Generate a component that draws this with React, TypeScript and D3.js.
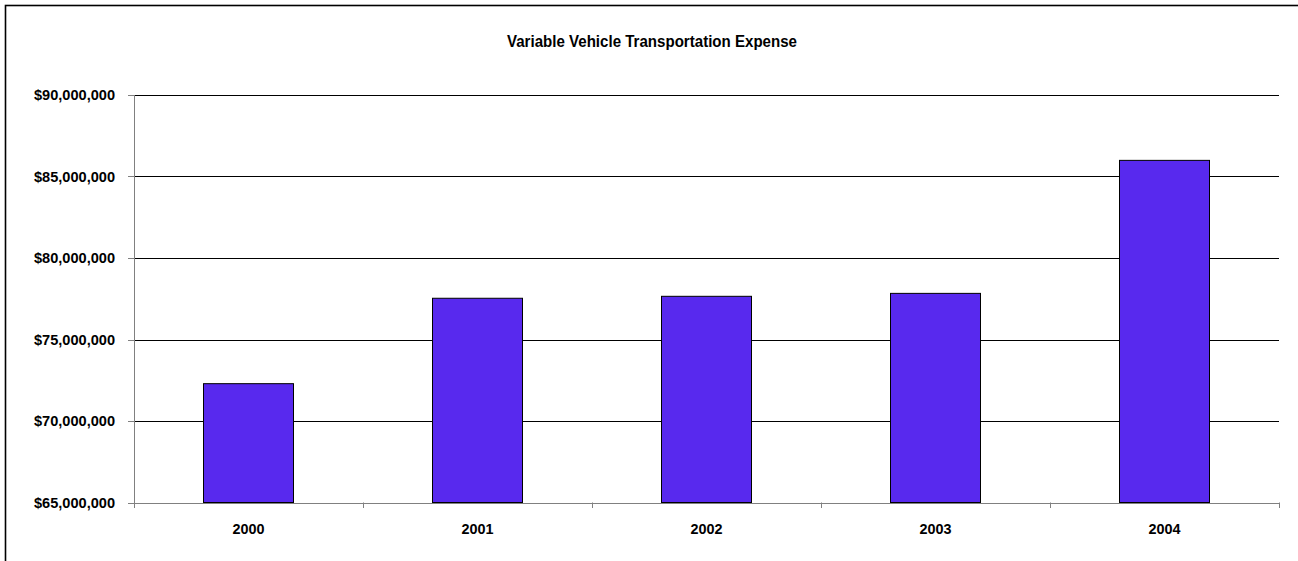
import React from "react";
import * as d3 from "d3";

const years: string[] = ["2000", "2001", "2002", "2003", "2004"];
const expense: number[] = [72290000, 77530000, 77650000, 77830000, 85990000];
const yTicks: number[] = [65000000, 70000000, 75000000, 80000000, 85000000, 90000000];
const title = "Variable Vehicle Transportation Expense";

export default function App() {
  const W = 1298;
  const H = 561;
  const left = 134;
  const right = 1279;
  const top = 95;
  const bottom = 502.5;

  const x = d3.scaleBand<string>().domain(years).range([left, right]).padding(0);
  const y = d3.scaleLinear().domain([65000000, 90000000]).range([bottom, top]);
  const barW = x.bandwidth() * 0.393;
  const fmt = (v: number) => "$" + d3.format(",")(v);
  const font = "'Liberation Sans', Arial, sans-serif";

  const boundaries = [...years.map((d) => x(d) as number), right];

  return (
    <svg
      width={W}
      height={H}
      style={{ position: "absolute", left: 0, top: 0, background: "#fff" }}
      fontFamily={font}
    >
      <rect x={5.5} y={5.5} width={1400} height={700} fill="#fff" stroke="#000" strokeWidth={1.6} />
      <text
        x={652}
        y={47}
        textAnchor="middle"
        fontWeight="bold"
        fontSize={17}
        textLength={290}
        lengthAdjust="spacingAndGlyphs"
        fill="#000"
      >
        {title}
      </text>
      {yTicks.slice(1).map((t) => (
        <line key={"g" + t} x1={left} x2={right} y1={Math.round(y(t)) + 0.5} y2={Math.round(y(t)) + 0.5} stroke="#000" strokeWidth={1} />
      ))}
      {yTicks.map((t) => (
        <g key={"t" + t}>
          <line x1={left - 6} x2={left} y1={Math.round(y(t)) + 0.5} y2={Math.round(y(t)) + 0.5} stroke="#808080" strokeWidth={1} />
          <text
            x={115}
            y={y(t)}
            dy="0.36em"
            textAnchor="end"
            fontWeight="bold"
            fontSize={14}
            textLength={81}
            lengthAdjust="spacingAndGlyphs"
            fill="#000"
          >
            {fmt(t)}
          </text>
        </g>
      ))}
      {years.map((yr, i) => {
        const cx = (x(yr) as number) + x.bandwidth() / 2;
        return (
          <rect
            key={yr}
            x={cx - barW / 2}
            y={y(expense[i])}
            width={barW}
            height={bottom - y(expense[i])}
            fill="#5829EE"
            stroke="#000"
            strokeWidth={1}
          />
        );
      })}
      <line x1={left + 0.5} x2={left + 0.5} y1={top} y2={bottom + 0.5} stroke="#808080" strokeWidth={1} />
      <line x1={left} x2={right} y1={Math.round(bottom) + 0.5} y2={Math.round(bottom) + 0.5} stroke="#808080" strokeWidth={1} />
      {boundaries.map((bx, i) => (
        <line key={"xt" + i} x1={Math.round(bx) + 0.5} x2={Math.round(bx) + 0.5} y1={bottom} y2={bottom + 5.5} stroke="#808080" strokeWidth={1} />
      ))}
      {years.map((yr) => (
        <text
          key={"xl" + yr}
          x={(x(yr) as number) + x.bandwidth() / 2}
          y={534}
          textAnchor="middle"
          fontWeight="bold"
          fontSize={15}
          textLength={32}
          lengthAdjust="spacingAndGlyphs"
          fill="#000"
        >
          {yr}
        </text>
      ))}
    </svg>
  );
}
